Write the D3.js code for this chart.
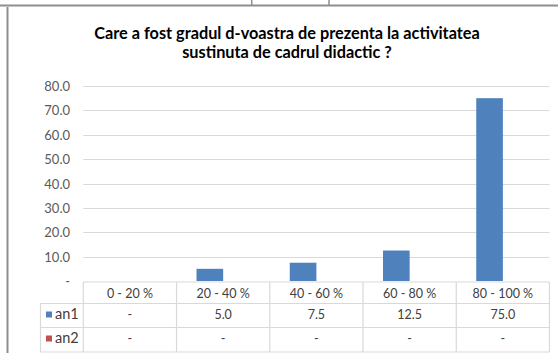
<!DOCTYPE html>
<html>
<head>
<meta charset="utf-8">
<script src="https://cdn.jsdelivr.net/npm/d3@7"></script>
<style>
  html, body { margin: 0; padding: 0; background: #fff; }
  svg { display: block; }
  text { font-family: Lato, "Open Sans", "DejaVu Sans", sans-serif; }
</style>
</head>
<body>
<script>
// Survey question: attendance level at activities held by the teaching staff
const titleLines = ["Care a fost gradul d-voastra de prezenta la activitatea", "sustinuta de cadrul didactic ?"];
const categories = ["0 - 20 %", "20 - 40 %", "40 - 60 %", "60 - 80 %", "80 - 100 %"];
const seriesNames = ["an1", "an2"];
const an1 = [0, 5.0, 7.5, 12.5, 75.0];
const an2 = [0, 0, 0, 0, 0];
const yTicks = [0, 10, 20, 30, 40, 50, 60, 70, 80];
const seriesColors = ["#4f81bd", "#c0504d"];

const W = 558, H = 353;
const plot = { left: 83.3, right: 549.5, top: 86, bottom: 281 };

const svg = d3.select("body").append("svg").attr("width", W).attr("height", H);

// surrounding sheet cell borders
const frame = svg.append("g").attr("stroke", "#8e8e8e").attr("fill", "none");
frame.append("line").attr("x1", 0).attr("x2", W).attr("y1", 5.5).attr("y2", 5.5).attr("stroke-width", 2);
frame.append("line").attr("x1", 251.7).attr("x2", 251.7).attr("y1", 0).attr("y2", 6).attr("stroke-width", 1.5);
frame.append("line").attr("x1", 329).attr("x2", 329).attr("y1", 0).attr("y2", 6).attr("stroke-width", 1.5);
frame.append("line").attr("x1", 7.5).attr("x2", 7.5).attr("y1", 7).attr("y2", H).attr("stroke-width", 2);

// title
const title = svg.append("text")
  .attr("x", 287).attr("text-anchor", "middle")
  .attr("font-weight", "bold").attr("font-size", 15).attr("fill", "#000");
title.selectAll("tspan").data(titleLines).join("tspan")
  .attr("x", 287).attr("y", (d, i) => 38.5 + i * 19).text(d => d);
// fit the first line to its width
{
  const t = title.select("tspan").node();
  const w = t.getComputedTextLength();
  const target = 386;
  title.attr("font-size", 15 * target / w);
}

const x = d3.scaleBand().domain(categories).range([plot.left, plot.right]).padding(0);
const bw = x.bandwidth() / 3.5;
const xs = d3.scaleBand().domain(seriesNames).range([0.75 * bw, x.bandwidth() - 0.75 * bw]).padding(0);
const y = d3.scaleLinear().domain([0, 80]).range([plot.bottom, plot.top]);

// gridlines
svg.append("g").selectAll("line").data(yTicks.filter(d => d > 0)).join("line")
  .attr("x1", plot.left).attr("x2", plot.right)
  .attr("y1", d => Math.round(y(d)) + 0.5).attr("y2", d => Math.round(y(d)) + 0.5)
  .attr("stroke", "#d9d9d9").attr("stroke-width", 1);

// y axis labels
const yAxis = d3.axisLeft(y).tickValues(yTicks).tickSize(0).tickPadding(0)
  .tickFormat(d => d === 0 ? "-" : d3.format(".1f")(d));
const ya = svg.append("g").attr("transform", `translate(70,0)`).call(yAxis);
ya.select(".domain").remove();
ya.selectAll("text").attr("font-family", "Lato, 'Open Sans', sans-serif")
  .attr("font-size", 13).attr("fill", "#595959").attr("dy", "0.35em");

// bars
const seriesData = [an1, an2];
seriesNames.forEach((s, si) => {
  svg.append("g").selectAll("rect").data(seriesData[si]).join("rect")
    .attr("x", (d, i) => x(categories[i]) + xs(s))
    .attr("width", xs.bandwidth())
    .attr("y", d => y(d))
    .attr("height", d => y(0) - y(d))
    .attr("fill", seriesColors[si]);
});

// data table
const rowTop = 282, rowH = [21.5, 24, 24.5];
const tableLeft = 40.5;
const grid = svg.append("g").attr("stroke", "#d9d9d9").attr("stroke-width", 1.2).attr("fill", "none");
const rowY = [rowTop, rowTop + rowH[0], rowTop + rowH[0] + rowH[1], rowTop + rowH[0] + rowH[1] + rowH[2]];
grid.append("line").attr("x1", plot.left).attr("x2", plot.right).attr("y1", rowY[0]).attr("y2", rowY[0]);
[1, 2, 3].forEach(k => grid.append("line").attr("x1", tableLeft).attr("x2", plot.right).attr("y1", rowY[k]).attr("y2", rowY[k]));
grid.append("line").attr("x1", tableLeft).attr("x2", tableLeft).attr("y1", rowY[1]).attr("y2", rowY[3]);
grid.selectAll(".v").data(categories.concat(["end"])).join("line")
  .attr("x1", (d, i) => i < categories.length ? x(d) : plot.right)
  .attr("x2", (d, i) => i < categories.length ? x(d) : plot.right)
  .attr("y1", rowY[0]).attr("y2", rowY[3]);

const fmt = v => v === 0 ? "-" : d3.format(".1f")(v);
const cellFont = 12.5;
svg.append("g").selectAll("text").data(categories).join("text")
  .attr("x", d => x(d) + x.bandwidth() / 2).attr("y", 297.5)
  .attr("text-anchor", "middle").attr("font-size", cellFont).attr("fill", "#404040").text(d => d);

seriesNames.forEach((s, si) => {
  const by = [319, 343][si];
  const row = svg.append("g");
  row.selectAll("text").data(seriesData[si]).join("text")
    .attr("x", (d, i) => x(categories[i]) + x.bandwidth() / 2).attr("y", by)
    .attr("text-anchor", "middle").attr("font-size", cellFont).attr("fill", "#404040").text(fmt);
  row.append("rect").attr("x", 46).attr("y", by - 7.5).attr("width", 6).attr("height", 6).attr("fill", seriesColors[si]);
  row.append("text").attr("x", 55).attr("y", by).attr("font-size", 14.5).attr("fill", "#404040").text(s);
});
</script>
</body>
</html>
